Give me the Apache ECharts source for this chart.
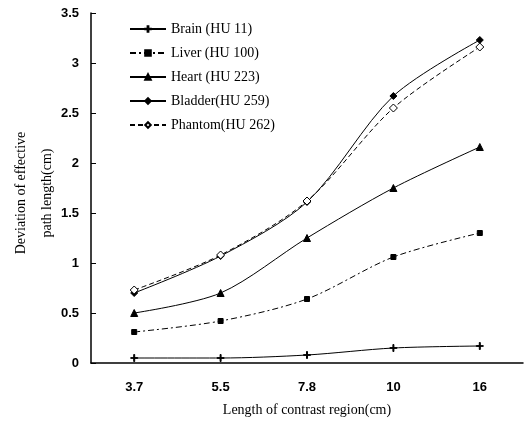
<!DOCTYPE html>
<html>
<head>
<meta charset="utf-8">
<script src="https://cdn.jsdelivr.net/npm/echarts@6/dist/echarts.min.js"></script>
<style>
  html, body { margin: 0; padding: 0; background: #fff; }
  #chart { width: 531px; height: 424px; }
</style>
</head>
<body>
<div id="chart"></div>
<script>
// contrast region lengths (cm)
const categories = ['3.7', '5.5', '7.8', '10', '16']

const brain = [0.05, 0.05, 0.08, 0.15, 0.17]
const liver = [0.31, 0.42, 0.64, 1.06, 1.30]
const heart = [0.50, 0.70, 1.25, 1.75, 2.16]
const bladder = [0.70, 1.07, 1.61, 2.67, 3.23]
const phantom = [0.73, 1.08, 1.62, 2.55, 3.16]

const seriesNames = ['Brain (HU 11)', 'Liver (HU 100)', 'Heart (HU 223)', 'Bladder(HU 259)', 'Phantom(HU 262)']

const chart = echarts.init(document.getElementById('chart'))

function line(name, data, symbol, size, type, fill) {
  return {
    name: name,
    type: 'line',
    data: data,
    smooth: 0.3,
    symbol: symbol,
    symbolSize: size,
    showAllSymbol: true,
    lineStyle: { color: '#000', width: 1, type: type },
    itemStyle: { color: fill || '#000', borderColor: '#000', borderWidth: 1 },
    animation: false
  }
}

// small "+" marker for the brain curve
const crossPath = 'path://M4.3,0 H5.7 V10 H4.3 Z M0,4.5 H10 V5.5 H0 Z'

chart.setOption({
  backgroundColor: '#fff',
  textStyle: { fontFamily: 'Liberation Serif' },
  legend: {
    orient: 'vertical',
    left: 124,
    top: 17,
    itemWidth: 36,
    itemHeight: 7,
    itemGap: 10,
    textStyle: { fontFamily: 'Liberation Serif', fontSize: 14, color: '#000' },
    data: seriesNames
  },
  grid: { left: 90, right: 8, top: 13, bottom: 61 },
  xAxis: {
    type: 'category',
    data: categories,
    boundaryGap: true,
    name: 'Length of contrast region(cm)',
    nameLocation: 'middle',
    nameGap: 40,
    nameMoveOverlap: false,
    nameTextStyle: { fontFamily: 'Liberation Serif', fontSize: 14, color: '#000' },
    axisLine: { lineStyle: { color: '#000', width: 1.5 } },
    axisTick: { inside: true, length: 5, lineStyle: { color: '#000' } },
    axisLabel: { fontFamily: 'Liberation Sans', fontWeight: 'bold', fontSize: 13, color: '#000', margin: 18 }
  },
  yAxis: {
    type: 'value',
    min: 0,
    max: 3.5,
    interval: 0.5,
    name: 'Deviation of effective\npath length(cm)',
    nameLocation: 'middle',
    nameGap: 31,
    nameMoveOverlap: false,
    nameTextStyle: { fontFamily: 'Liberation Serif', fontSize: 14, color: '#000', lineHeight: 26, padding: [0, 10, 0, 0] },
    splitLine: { show: false },
    axisLine: { show: true, lineStyle: { color: '#000', width: 1.5 } },
    axisTick: { show: true, inside: true, length: 5, lineStyle: { color: '#000' } },
    axisLabel: { fontFamily: 'Liberation Sans', fontWeight: 'bold', fontSize: 13, color: '#000', margin: 12 }
  },
  series: [
    line(seriesNames[0], brain, crossPath, 7, 'solid'),
    line(seriesNames[1], liver, 'rect', 5, [6, 3, 2, 3]),
    line(seriesNames[2], heart, 'triangle', 7, 'solid'),
    line(seriesNames[3], bladder, 'diamond', 7, 'solid'),
    line(seriesNames[4], phantom, 'diamond', 8, [5, 3], '#fff')
  ]
})
</script>
</body>
</html>
